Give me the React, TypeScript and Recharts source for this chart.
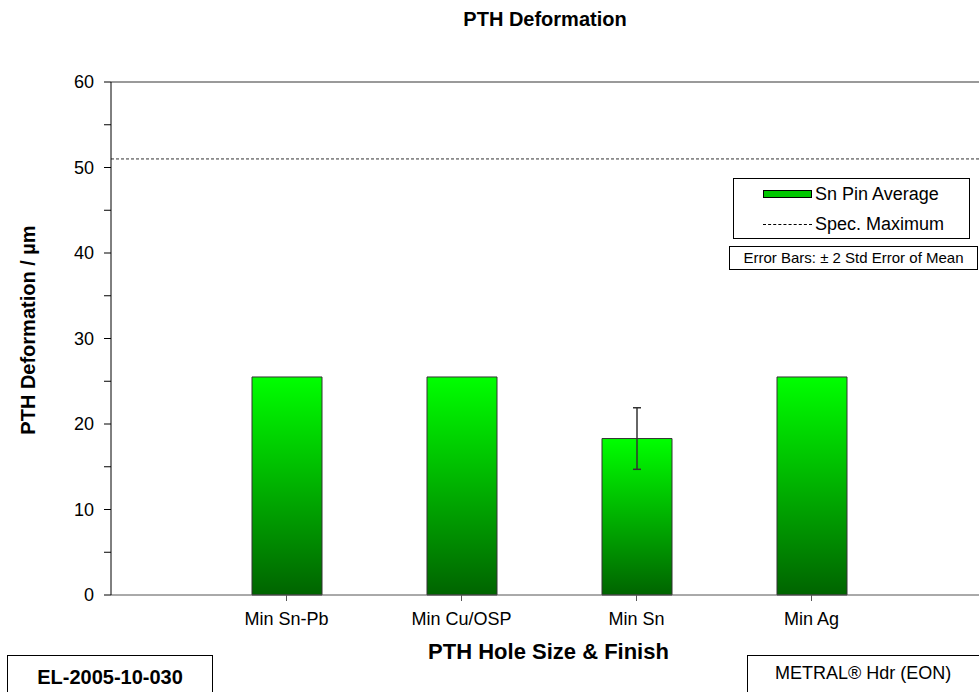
import { BarChart, Bar, XAxis, YAxis, ReferenceLine, ErrorBar, Legend } from 'recharts';

// categories and values
const categories = ['Min Sn-Pb', 'Min Cu/OSP', 'Min Sn', 'Min Ag'];
const pinAverage = [25.5, 25.5, 18.3, 25.5];
const errorTwoSE = [0, 0, 3.6, 0];
const specMaximum = 51;
const yTicks = [0, 5, 10, 15, 20, 25, 30, 35, 40, 45, 50, 55, 60];

const FONT = '"Liberation Sans", Arial, sans-serif';

const chartData = categories.map((name, i) => ({
  name,
  avg: pinAverage[i],
  err: errorTwoSE[i] || undefined,
}));

function LegendBox() {
  return (
    <div
      style={{
        border: '1px solid #000',
        background: '#fff',
        width: 237,
        height: 61,
        boxSizing: 'border-box',
        fontFamily: FONT,
        fontSize: 18,
        color: '#000',
        padding: '0 0 0 29px',
        lineHeight: '29px',
        textAlign: 'left',
      }}
    >
      <div style={{ display: 'flex', alignItems: 'center', height: 30 }}>
        <span
          style={{
            display: 'inline-block',
            width: 47,
            height: 6,
            border: '1px solid #000',
            background: '#00c800',
            marginRight: 3,
          }}
        />
        Sn Pin Average
      </div>
      <div style={{ display: 'flex', alignItems: 'center', height: 30 }}>
        <span
          style={{
            display: 'inline-block',
            width: 49,
            borderTop: '1px dashed #000',
            marginRight: 3,
          }}
        />
        Spec. Maximum
      </div>
    </div>
  );
}

export default function App() {
  return (
    <div
      style={{
        position: 'absolute',
        left: 0,
        top: 0,
        width: 979,
        height: 692,
        overflow: 'hidden',
        background: '#fff',
        fontFamily: FONT,
      }}
    >
      <BarChart
        width={1000}
        height={692}
        data={chartData}
        margin={{ top: 82, right: 14, bottom: 0, left: 0 }}
      >
        <defs>
          <linearGradient id="pinFill" x1="0" y1="0" x2="0" y2="1">
            <stop offset="0%" stopColor="#00ff00" />
            <stop offset="100%" stopColor="#006400" />
          </linearGradient>
        </defs>
        <XAxis
          dataKey="name"
          height={97}
          padding={{ left: 88, right: 87 }}
          tickSize={6}
          tickMargin={11}
          axisLine={{ stroke: '#555' }}
          tickLine={{ stroke: '#555' }}
          tick={{ fill: '#000', fontSize: 18, fontFamily: FONT }}
          interval={0}
        />
        <YAxis
          width={111}
          domain={[0, 60]}
          ticks={yTicks}
          interval={0}
          tickSize={7}
          tickMargin={10}
          axisLine={{ stroke: '#000' }}
          tickLine={{ stroke: '#000' }}
          tick={{ fill: '#000', fontSize: 18, fontFamily: FONT }}
          tickFormatter={(v) => (v % 10 === 0 ? String(v) : '')}
        />
        <ReferenceLine y={60} stroke="#9a9a9a" strokeWidth={2} />
        <ReferenceLine y={specMaximum} stroke="#333" strokeDasharray="3 2" />
        <Bar
          dataKey="avg"
          barSize={70}
          fill="url(#pinFill)"
          stroke="#333"
          strokeWidth={1}
          isAnimationActive={false}
        >
          <ErrorBar dataKey="err" width={4} stroke="#333" strokeWidth={1.5} direction="y" />
        </Bar>
        <Legend
          layout="horizontal"
          verticalAlign="middle"
          align="center"
          content={() => <LegendBox />}
          wrapperStyle={{ left: 733, top: 178, width: 237, height: 61 }}
        />
      </BarChart>

      {/* chart title */}
      <div
        style={{
          position: 'absolute',
          left: 0,
          width: 1090,
          top: 8,
          textAlign: 'center',
          fontWeight: 'bold',
          fontSize: 20,
        }}
      >
        PTH Deformation
      </div>

      {/* y axis title */}
      <div
        style={{
          position: 'absolute',
          left: 28,
          top: 330,
          transform: 'translate(-50%, -50%) rotate(-90deg)',
          whiteSpace: 'nowrap',
          fontWeight: 'bold',
          fontSize: 20,
        }}
      >
        PTH Deformation / µm
      </div>

      {/* x axis title */}
      <div
        style={{
          position: 'absolute',
          left: 0,
          width: 1097,
          top: 639,
          textAlign: 'center',
          fontWeight: 'bold',
          fontSize: 22,
        }}
      >
        PTH Hole Size &amp; Finish
      </div>

      {/* error bar note */}
      <div
        style={{
          position: 'absolute',
          left: 729,
          top: 246,
          width: 249,
          height: 24,
          boxSizing: 'border-box',
          border: '1px solid #000',
          fontSize: 15,
          lineHeight: '22px',
          textAlign: 'center',
        }}
      >
        Error Bars: ± 2 Std Error of Mean
      </div>

      {/* report id box */}
      <div
        style={{
          position: 'absolute',
          left: 7,
          top: 655,
          width: 206,
          height: 50,
          boxSizing: 'border-box',
          border: '1px solid #000',
          fontSize: 20,
          fontWeight: 'bold',
          lineHeight: '43px',
          textAlign: 'center',
        }}
      >
        EL-2005-10-030
      </div>

      {/* product box */}
      <div
        style={{
          position: 'absolute',
          left: 747,
          top: 655,
          width: 260,
          height: 50,
          boxSizing: 'border-box',
          border: '1px solid #000',
          fontSize: 18,
          lineHeight: '35px',
          paddingLeft: 27,
        }}
      >
        METRAL® Hdr (EON)
      </div>
    </div>
  );
}
